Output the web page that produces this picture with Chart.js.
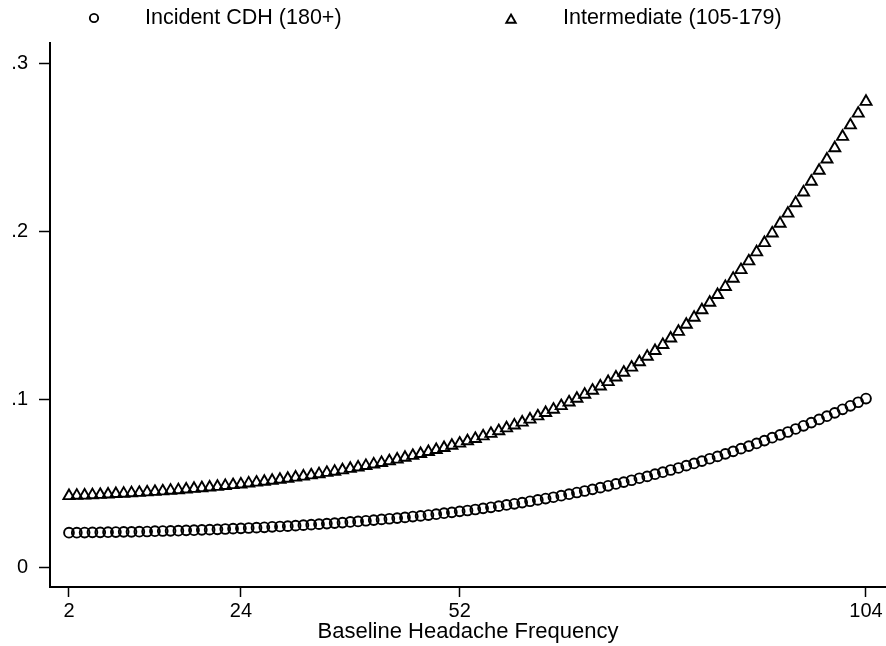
<!DOCTYPE html>
<html>
<head>
<meta charset="utf-8">
<script src="https://cdn.jsdelivr.net/npm/chart.js@4"></script>
<style>
  html, body { margin: 0; padding: 0; background: #fff; }
  canvas { display: block; }
</style>
</head>
<body>
<canvas id="chart" width="886" height="646"></canvas>
<script>
// baseline headache frequency, 2..104 (one point per value)
const frequency = [];
for (let f = 2; f <= 104; f++) frequency.push(f);

const incidentCDH = [
    0.0208, 0.0208, 0.0209, 0.0210, 0.0210, 0.0211, 0.0212, 0.0213, 0.0213, 0.0214,
    0.0215, 0.0217, 0.0218, 0.0219, 0.0220, 0.0222, 0.0223, 0.0225, 0.0226, 0.0228,
    0.0230, 0.0232, 0.0234, 0.0236, 0.0238, 0.0240, 0.0243, 0.0245, 0.0247, 0.0250,
    0.0253, 0.0256, 0.0259, 0.0262, 0.0265, 0.0268, 0.0272, 0.0275, 0.0279, 0.0283,
    0.0287, 0.0291, 0.0295, 0.0299, 0.0304, 0.0308, 0.0313, 0.0318, 0.0324, 0.0329,
    0.0335, 0.0340, 0.0346, 0.0353, 0.0359, 0.0366, 0.0373, 0.0380, 0.0387, 0.0395,
    0.0403, 0.0411, 0.0419, 0.0428, 0.0437, 0.0447, 0.0456, 0.0466, 0.0476, 0.0487,
    0.0498, 0.0509, 0.0520, 0.0532, 0.0543, 0.0556, 0.0568, 0.0581, 0.0593, 0.0607,
    0.0620, 0.0634, 0.0648, 0.0662, 0.0677, 0.0692, 0.0708, 0.0723, 0.0739, 0.0756,
    0.0773, 0.0790, 0.0807, 0.0825, 0.0844, 0.0863, 0.0882, 0.0901, 0.0921, 0.0942,
    0.0963, 0.0984, 0.1006
];

const intermediate = [
    0.0427, 0.0429, 0.0430, 0.0432, 0.0434, 0.0436, 0.0439, 0.0441, 0.0444, 0.0446,
    0.0449, 0.0452, 0.0455, 0.0459, 0.0462, 0.0466, 0.0470, 0.0474, 0.0478, 0.0482,
    0.0487, 0.0492, 0.0496, 0.0502, 0.0507, 0.0512, 0.0518, 0.0524, 0.0530, 0.0537,
    0.0543, 0.0550, 0.0557, 0.0565, 0.0572, 0.0580, 0.0589, 0.0597, 0.0606, 0.0615,
    0.0624, 0.0634, 0.0644, 0.0655, 0.0666, 0.0677, 0.0689, 0.0701, 0.0713, 0.0726,
    0.0739, 0.0753, 0.0767, 0.0782, 0.0797, 0.0813, 0.0830, 0.0847, 0.0864, 0.0882,
    0.0901, 0.0921, 0.0941, 0.0962, 0.0984, 0.1006, 0.1030, 0.1054, 0.1079, 0.1105,
    0.1132, 0.1161, 0.1191, 0.1223, 0.1256, 0.1290, 0.1326, 0.1364, 0.1404, 0.1446,
    0.1488, 0.1532, 0.1577, 0.1623, 0.1671, 0.1720, 0.1771, 0.1823, 0.1877, 0.1932,
    0.1989, 0.2047, 0.2107, 0.2169, 0.2233, 0.2297, 0.2362, 0.2429, 0.2496, 0.2564,
    0.2632, 0.2702, 0.2772
];

const seriesLabels = ["Incident CDH (180+)", "Intermediate (105-179)"];
const xTicks = [2, 24, 52, 104];
const yTicks = [0, 0.1, 0.2, 0.3];
const yTickLabels = ["0", ".1", ".2", ".3"];

const FONT = "'Liberation Sans', Arial, Helvetica, sans-serif";

// legend drawn across the top, Stata style
const topLegend = {
    id: "topLegend",
    afterDraw(chart, args, opts) {
        const ctx = chart.ctx;
        ctx.save();
        chart.data.datasets.forEach((ds, i) => {
            ctx.strokeStyle = "#000";
            ctx.fillStyle = "rgba(0,0,0,0)";
            ctx.lineWidth = ds.borderWidth;
            Chart.helpers.drawPoint(ctx, {
                pointStyle: ds.pointStyle,
                radius: ds.pointRadius * opts.markerScale,
                borderWidth: ds.borderWidth,
                rotation: 0
            }, opts.markerX[i], opts.markerY[i]);
            ctx.fillStyle = "#000";
            ctx.font = opts.fontSize + "px " + FONT;
            ctx.textBaseline = "alphabetic";
            ctx.textAlign = "left";
            ctx.fillText(ds.label, opts.textX[i], opts.baseline);
        });
        ctx.restore();
    }
};

const ctx = document.getElementById("chart").getContext("2d");
new Chart(ctx, {
    type: "scatter",
    data: {
        datasets: [
            {
                label: seriesLabels[0],
                data: frequency.map((f, i) => ({ x: f, y: incidentCDH[i] })),
                pointStyle: "circle",
                pointRadius: 4.9,
                borderWidth: 1.9,
                borderColor: "#000",
                backgroundColor: "rgba(0,0,0,0)",
                showLine: false
            },
            {
                label: seriesLabels[1],
                data: frequency.map((f, i) => ({ x: f, y: intermediate[i] })),
                pointStyle: "triangle",
                pointRadius: 6.4,
                borderWidth: 1.9,
                borderColor: "#000",
                backgroundColor: "rgba(0,0,0,0)",
                showLine: false
            }
        ]
    },
    options: {
        responsive: false,
        animation: false,
        devicePixelRatio: 1,
        layout: { autoPadding: false, padding: { top: 43, left: 0, right: 0, bottom: 0 } },
        plugins: {
            legend: { display: false },
            tooltip: { enabled: false },
            topLegend: {
                markerX: [94, 511],
                markerY: [18, 20],
                markerScale: 0.85,
                textX: [145, 563],
                baseline: 24,
                fontSize: 21.5
            }
        },
        scales: {
            x: {
                type: "linear",
                min: -0.43,
                max: 106.56,
                afterBuildTicks: (axis) => { axis.ticks = xTicks.map(v => ({ value: v })); },
                afterFit: (axis) => {
                    axis.height = 59;
                    axis.paddingLeft = 0;
                    axis.paddingRight = 0;
                },
                grid: {
                    display: true,
                    drawOnChartArea: false,
                    drawTicks: true,
                    tickLength: 10,
                    tickWidth: 1.5,
                    tickColor: "#000"
                },
                border: { display: true, color: "#000", width: 2 },
                ticks: {
                    color: "#000",
                    font: { family: FONT, size: 20, lineHeight: 1 },
                    padding: 4,
                    maxRotation: 0,
                    autoSkip: false
                },
                title: {
                    display: true,
                    text: "Baseline Headache Frequency",
                    color: "#000",
                    font: { family: FONT, size: 22, lineHeight: 1 },
                    padding: { top: 2, bottom: 3 }
                }
            },
            y: {
                type: "linear",
                min: -0.0115,
                max: 0.3121,
                afterBuildTicks: (axis) => { axis.ticks = yTicks.map(v => ({ value: v })); },
                afterFit: (axis) => { axis.width = 50; },
                grid: {
                    display: true,
                    drawOnChartArea: false,
                    drawTicks: true,
                    tickLength: 11,
                    tickWidth: 1.5,
                    tickColor: "#000"
                },
                border: { display: true, color: "#000", width: 2 },
                ticks: {
                    color: "#000",
                    font: { family: FONT, size: 20, lineHeight: 1 },
                    padding: 11,
                    autoSkip: false,
                    callback: (value) => yTickLabels[yTicks.indexOf(value)]
                }
            }
        }
    },
    plugins: [topLegend]
});
</script>
</body>
</html>
